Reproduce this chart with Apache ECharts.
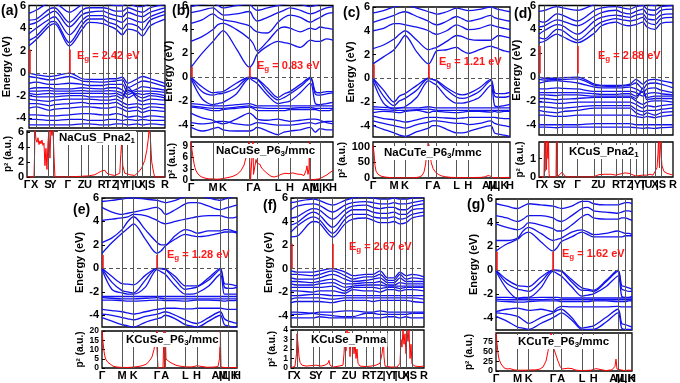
<!DOCTYPE html>
<html>
<head>
<meta charset="utf-8">
<style>
  html, body { margin: 0; padding: 0; background: #fff; }
  #main { width: 680px; height: 383px; }
</style>
</head>
<body>
<div id="main"></div>
<script src="https://cdn.jsdelivr.net/npm/echarts@6/dist/echarts.min.js"></script>
<script>
// k-path labels
var orthoLabels = ['Γ','X','S','Y','Γ','Z','U','R','T','Z','|Y','T','|U','X','|S','R'];
var hexLabels = ['Γ','M','K','Γ','A','L','H','A|L','M|K','H'];

// (a) NaCuS Pna21 : bands sampled at the tick points
var aTicks = [0, 7.6, 21, 26, 41, 54.3, 61, 75, 81, 88.3, 95, 100.3, 110, 115.3, 123.3, 138.3];
var aBands = [
  [0, -0.15, -0.3, -0.25, 0, -0.5, -0.55, -0.55, -0.5, -0.5, -0.35, -0.9, -0.5, -0.3, -0.5, -0.9],
  [-0.3, -0.4, -0.6, -0.55, -0.3, -0.7, -0.75, -0.8, -0.75, -0.7, -0.6, -1.3, -0.9, -0.7, -0.8, -1.2],
  [-0.9, -0.8, -1.0, -1.0, -0.9, -1.0, -1.1, -1.1, -1.0, -1.0, -1.0, -1.7, -1.4, -1.2, -1.3, -1.5],
  [-1.4, -1.3, -1.3, -1.4, -1.4, -1.3, -1.35, -1.4, -1.3, -1.3, -1.5, -1.9, -1.6, -1.6, -1.6, -1.7],
  [-1.6, -1.6, -1.55, -1.6, -1.6, -1.55, -1.6, -1.6, -1.55, -1.6, -1.8, -2.2, -1.8, -1.9, -1.8, -2.0],
  [-1.8, -1.9, -1.8, -1.85, -1.8, -1.8, -1.8, -1.8, -1.85, -1.8, -2.0, -1.5, -2.0, -2.2, -2.0, -2.2],
  [-2.0, -2.1, -2.1, -2.1, -2.0, -2.0, -2.1, -2.1, -2.1, -2.0, -2.3, -1.2, -2.3, -2.5, -2.3, -2.4],
  [-2.3, -2.4, -2.5, -2.4, -2.3, -2.3, -2.3, -2.4, -2.4, -2.3, -2.6, -2.8, -2.7, -2.8, -2.7, -2.8],
  [-2.7, -2.7, -2.9, -2.8, -2.7, -2.6, -2.7, -2.7, -2.7, -2.6, -2.9, -3.1, -3.0, -3.2, -3.0, -3.1],
  [-3.1, -3.0, -3.3, -3.2, -3.1, -3.0, -3.0, -3.1, -3.1, -3.0, -3.2, -3.4, -3.3, -3.5, -3.3, -3.4],
  [-3.7, -3.7, -3.8, -3.8, -3.7, -3.6, -3.6, -3.7, -3.7, -3.6, -3.7, -3.9, -3.8, -3.9, -3.8, -3.9],
  [-4.1, -4.1, -4.2, -4.2, -4.1, -4.1, -4.2, -4.2, -4.1, -4.1, -4.2, -4.1, -4.2, -4.1, -4.2, -4.2],
  [-4.6, -4.6, -4.6, -4.6, -4.6, -4.5, -4.5, -4.6, -4.6, -4.5, -4.5, -4.6, -4.5, -4.6, -4.5, -4.6],
  [2.42, 3.0, 4.2, 4.4, 2.42, 3.9, 4.5, 4.4, 4.2, 3.9, 3.4, 3.9, 3.7, 3.3, 4.2, 4.8],
  [2.9, 3.3, 4.5, 4.6, 2.7, 4.3, 4.8, 4.8, 4.5, 4.3, 3.9, 4.4, 4.2, 3.8, 4.7, 5.2],
  [3.5, 4.0, 4.8, 5.0, 3.4, 4.7, 5.1, 5.1, 4.9, 4.7, 4.5, 4.9, 4.6, 4.5, 5.0, 5.5],
  [4.3, 4.5, 5.3, 5.5, 4.1, 5.2, 5.4, 5.5, 5.3, 5.1, 5.0, 5.4, 5.1, 5.0, 5.4, 5.8],
  [4.7, 4.8, 5.7, 5.8, 4.5, 5.6, 5.8, 5.8, 5.7, 5.5, 5.5, 5.8, 5.5, 5.4, 5.8, 6.1],
  [5.3, 5.6, 6.2, 6.2, 5.4, 6.1, 6.2, 6.2, 6.1, 6.0, 6.0, 6.2, 5.9, 5.9, 6.2, 6.3]
];
var aP2 = [[0,0],[7,0],[7.6,3],[8,6.5],[9,5],[10,4.6],[11,5.2],[12,4.3],[13,4.8],[14,4.4],[15,4.9],[16,4.2],[17,4.5],[18,1.5],[19,3.8],[20,1.0],[21,4.5],[22,6.2],[23,2.5],[24,6.5],[25,5.5],[26,6.5],[27,3],[28,0],[40,0],[48,0.05],[55,0.1],[62,0.15],[68,0.3],[72,0.6],[75,0.8],[78,0.9],[80,0.5],[82,0.4],[84,0.3],[88,0.2],[93,0.5],[94,3],[95,4.8],[96,1.5],[98,0.5],[103,0.3],[108,0.2],[109,0.4],[112,0.7],[115,1.2],[118,2.2],[120,3.5],[121.5,5],[122.5,6.5],[123.5,5.5],[125,2.0],[127,0.5],[128,0],[138.3,0]];

// (b) NaCuSe P63/mmc : bands sampled at ticks and mid-segments
var bTicks = [0, 22, 32, 58.6, 66, 87, 99, 119.5, 129, 142];
var bK = [0, 11, 22, 27, 32, 45.3, 58.6, 62.3, 66, 76.5, 87, 93, 99, 109.3, 119.5, 124.3, 129, 135.5, 142];
var bBands = [
  [0.83, 2.0, 3.0, 3.5, 3.9, 2.4, 0.83, 1.2, 1.9, 2.6, 3.0, 2.9, 2.8, 2.5, 3.1, 3.0, 3.0, 3.2, 3.1],
  [3.0, 3.4, 4.0, 4.4, 4.5, 4.0, 3.2, 2.8, 2.2, 3.0, 4.0, 4.2, 4.1, 3.8, 4.1, 4.0, 4.2, 4.1, 4.0],
  [4.5, 4.8, 5.3, 5.0, 4.8, 4.6, 4.3, 4.0, 3.8, 3.7, 4.6, 5.0, 5.2, 5.0, 4.6, 4.8, 5.0, 5.3, 5.4],
  [5.4, 5.6, 5.8, 5.5, 5.2, 5.3, 5.5, 5.0, 4.7, 5.0, 5.4, 5.6, 5.8, 5.6, 5.3, 5.4, 5.6, 5.8, 5.9],
  [5.9, 6.1, 6.2, 6.0, 5.8, 6.0, 6.1, 5.8, 5.6, 5.8, 6.0, 6.1, 6.2, 6.1, 5.9, 6.0, 6.1, 6.2, 6.3],
  [0, -0.8, -1.3, -1.25, -1.2, -0.5, 0, -0.05, -0.1, -0.9, -1.7, -1.4, -1.2, -0.6, 0, -1.2, -1.3, -1.2, -1.2],
  [0, -1.2, -1.5, -1.4, -1.35, -0.9, 0, -0.1, -0.15, -1.2, -1.9, -1.7, -1.4, -0.8, -0.1, -1.4, -1.5, -1.4, -1.3],
  [-0.1, -1.8, -2.3, -2.2, -2.1, -1.4, -0.1, -0.3, -0.5, -1.5, -2.2, -2.1, -2.0, -1.3, -0.5, -2.2, -2.3, -2.2, -2.1],
  [-2.2, -2.3, -2.4, -2.4, -2.4, -2.3, -2.2, -2.3, -2.4, -2.4, -2.4, -2.4, -2.4, -2.4, -2.4, -2.4, -2.4, -2.4, -2.4],
  [-2.4, -2.5, -2.6, -2.6, -2.6, -2.5, -2.4, -2.5, -2.55, -2.6, -2.6, -2.6, -2.6, -2.55, -2.55, -2.6, -2.6, -2.6, -2.6],
  [-2.5, -2.6, -2.8, -2.8, -2.7, -2.6, -2.5, -2.6, -2.8, -2.8, -2.8, -2.8, -2.7, -2.7, -2.7, -2.7, -2.8, -2.8, -2.7],
  [-3.0, -3.4, -3.6, -3.8, -3.9, -3.5, -3.0, -3.2, -3.5, -3.6, -3.5, -3.6, -3.7, -3.6, -3.5, -3.5, -3.6, -3.8, -3.9],
  [-3.8, -3.9, -3.8, -3.7, -3.7, -3.9, -4.0, -3.9, -3.8, -3.9, -4.0, -4.0, -4.0, -3.9, -3.8, -3.9, -3.8, -3.7, -3.7],
  [-4.2, -4.5, -4.3, -4.2, -4.4, -4.5, -4.5, -4.4, -4.2, -4.5, -4.8, -4.6, -4.5, -4.4, -4.2, -4.6, -4.3, -4.4, -4.4]
];
var bP2 = [[0,10.5],[1,8],[2,6],[3,4.5],[4,3.3],[5,2.5],[7,1.6],[10,0.9],[14,0.5],[18,0.3],[22,0.3],[26,0.2],[30,0.3],[34,0.5],[38,0.7],[42,1.0],[46,1.5],[50,2.5],[53,4],[55,6],[57,9],[58,10.5],[58.6,10.5],[59.5,0],[61.5,0],[62,10.5],[62.5,1.5],[64,1],[65,5.5],[66,4.5],[67,5],[68,4],[69,4.2],[70,3.5],[71,3.6],[72,2.8],[74,2.5],[76,1.8],[78,1.3],[80,1.0],[83,0.8],[86,1.0],[90,1.5],[94,1.8],[98,1.7],[102,1.9],[106,1.6],[110,1.5],[113,1.2],[115,2.5],[116,3.8],[117,1.5],[118,3],[118.5,10.5],[119,0],[121,0.3],[125,0.2],[128,0.3],[132,0.8],[136,1.4],[140,2.2],[142,2.6]];

// (c) NaCuTe P63/mmc
var cTicks = [0, 21, 32, 55.5, 63.5, 83.5, 95, 117.5, 125, 136.7];
var cK = [0, 10.5, 21, 26.5, 32, 43.8, 55.5, 59.5, 63.5, 73.5, 83.5, 89.3, 95, 106.3, 117.5, 121.3, 125, 130.9, 136.7];
var cBands = [
  [1.21, 1.8, 2.4, 3.0, 3.6, 2.2, 1.21, 1.7, 2.3, 2.4, 2.6, 2.3, 2.1, 2.4, 2.7, 2.6, 2.5, 2.3, 2.2],
  [2.5, 2.8, 3.3, 3.7, 4.0, 3.2, 2.4, 2.5, 2.6, 3.1, 3.6, 3.5, 3.3, 3.2, 3.2, 3.4, 3.6, 3.5, 3.4],
  [4.0, 4.2, 4.6, 4.6, 4.5, 4.3, 4.0, 3.8, 3.7, 4.0, 4.5, 4.3, 4.1, 4.2, 4.5, 4.4, 4.3, 4.2, 4.1],
  [4.7, 5.0, 5.3, 5.5, 5.6, 5.2, 4.8, 4.6, 4.5, 4.8, 5.2, 5.0, 4.8, 5.0, 5.3, 5.1, 5.0, 4.9, 4.8],
  [5.5, 5.7, 6.0, 6.1, 6.2, 5.9, 5.6, 5.5, 5.4, 5.6, 5.9, 5.8, 5.7, 5.8, 6.0, 5.9, 5.8, 5.7, 5.6],
  [0, -1.0, -2.0, -1.5, -1.3, -0.6, 0, -0.1, -0.2, -0.8, -1.3, -1.4, -1.3, -0.8, -0.1, -1.2, -1.3, -1.3, -1.2],
  [0, -1.5, -2.3, -1.9, -1.7, -1.0, 0, -0.1, -0.25, -1.0, -1.6, -1.7, -1.6, -1.1, -0.2, -1.5, -1.6, -1.6, -1.5],
  [-0.2, -2.1, -2.6, -2.5, -2.4, -1.6, -0.2, -0.4, -0.6, -1.6, -2.1, -2.1, -2.0, -1.6, -0.6, -2.3, -2.4, -2.3, -2.2],
  [-2.4, -2.45, -2.5, -2.5, -2.5, -2.5, -2.4, -2.45, -2.5, -2.5, -2.5, -2.5, -2.5, -2.5, -2.5, -2.5, -2.5, -2.5, -2.5],
  [-2.6, -2.65, -2.7, -2.7, -2.7, -2.65, -2.6, -2.65, -2.7, -2.7, -2.7, -2.7, -2.7, -2.7, -2.7, -2.7, -2.7, -2.7, -2.7],
  [-2.9, -2.8, -2.85, -2.9, -2.8, -2.7, -2.9, -2.8, -2.8, -2.85, -2.9, -2.85, -2.8, -2.8, -2.85, -2.8, -2.85, -2.8, -2.8],
  [-3.2, -3.4, -3.5, -3.6, -3.7, -3.5, -3.3, -3.3, -3.3, -3.35, -3.4, -3.35, -3.3, -3.3, -3.3, -3.3, -3.35, -3.4, -3.4],
  [-3.6, -3.8, -4.0, -4.1, -4.2, -3.9, -3.7, -3.6, -3.6, -3.7, -3.8, -3.8, -3.9, -3.8, -3.6, -3.8, -3.9, -4.0, -4.1],
  [-4.0, -4.3, -4.6, -4.8, -4.9, -4.5, -4.2, -4.0, -4.0, -4.3, -4.6, -4.6, -4.5, -4.2, -4.0, -4.6, -4.7, -4.8, -4.9]
];
var cP2 = [[0,105],[1,80],[2,40],[3,22],[5,12],[8,6],[12,3],[18,1],[25,0.5],[35,0.5],[42,1],[46,3],[49,8],[51,20],[52.5,45],[54,90],[55,112],[56,105],[57,80],[58,50],[60,30],[62,20],[65,12],[68,7],[72,4],[78,2],[90,1],[100,1.5],[108,2],[112,4],[115,8],[117,6],[119,1],[125,1],[130,1.5],[136.7,2]];

// (d) KCuS Pna21
var dTicks = [0, 5.5, 18, 23.5, 38.5, 55.5, 62.5, 77, 83.5, 91, 97, 104, 108, 116, 122, 134];
var dBands = [
  [0, -0.1, -0.1, -0.05, 0, -0.6, -0.7, -0.7, -0.7, -0.6, -0.2, -0.6, -0.3, -0.2, -0.3, -0.5],
  [-0.2, -0.25, -0.2, -0.2, -0.15, -0.7, -0.75, -0.8, -0.75, -0.7, -0.5, -1.0, -0.6, -0.5, -0.6, -0.9],
  [-0.5, -0.4, -0.3, -0.35, -0.5, -0.85, -0.9, -0.9, -0.9, -0.85, -1.0, -1.3, -1.0, -0.9, -1.1, -1.3],
  [-1.0, -1.0, -0.9, -0.95, -1.0, -1.2, -1.2, -1.2, -1.2, -1.2, -1.3, -1.6, -1.4, -1.3, -1.4, -1.5],
  [-1.3, -1.3, -1.3, -1.3, -1.3, -1.4, -1.45, -1.45, -1.4, -1.4, -1.6, -1.2, -1.7, -1.6, -1.6, -1.6],
  [-1.5, -1.5, -1.55, -1.5, -1.5, -1.6, -1.6, -1.6, -1.6, -1.6, -1.8, -0.9, -1.9, -1.8, -1.8, -1.8],
  [-1.8, -1.8, -1.9, -1.85, -1.8, -1.7, -1.7, -1.7, -1.7, -1.7, -2.0, -2.3, -2.1, -2.0, -2.0, -2.1],
  [-2.1, -2.1, -2.2, -2.2, -2.1, -2.1, -2.1, -2.1, -2.1, -2.1, -2.3, -2.6, -2.4, -2.5, -2.4, -2.3],
  [-2.5, -2.5, -2.6, -2.6, -2.5, -2.4, -2.4, -2.4, -2.4, -2.4, -2.7, -2.9, -2.8, -2.8, -2.7, -2.6],
  [-2.8, -2.9, -3.0, -2.9, -2.8, -2.6, -2.6, -2.6, -2.6, -2.6, -3.0, -3.2, -3.0, -3.2, -3.0, -2.9],
  [-3.2, -3.2, -3.3, -3.3, -3.2, -3.2, -3.2, -3.2, -3.2, -3.2, -3.3, -3.4, -3.3, -3.4, -3.3, -3.2],
  [-4.0, -4.0, -4.0, -4.0, -4.0, -3.9, -3.9, -3.9, -3.9, -3.9, -4.0, -4.0, -4.0, -4.0, -4.0, -4.0],
  [-4.2, -4.2, -4.25, -4.2, -4.2, -4.2, -4.2, -4.2, -4.2, -4.2, -4.25, -4.3, -4.25, -4.3, -4.25, -4.2],
  [2.88, 3.0, 3.6, 3.4, 2.88, 3.7, 4.3, 4.6, 4.4, 4.3, 4.4, 4.6, 4.2, 4.0, 4.5, 4.6],
  [3.3, 3.2, 4.0, 3.9, 3.1, 4.2, 4.6, 4.9, 4.8, 4.7, 4.8, 5.0, 4.6, 4.4, 4.9, 5.0],
  [3.6, 3.9, 4.4, 4.3, 3.6, 4.7, 5.0, 5.2, 5.1, 5.0, 5.2, 5.3, 4.9, 4.8, 5.2, 5.3],
  [4.2, 4.3, 4.8, 4.7, 4.3, 5.1, 5.4, 5.6, 5.4, 5.3, 5.5, 5.7, 5.3, 5.2, 5.6, 5.7],
  [4.7, 4.6, 5.3, 5.2, 4.7, 5.6, 5.8, 5.9, 5.8, 5.7, 5.9, 6.0, 5.7, 5.6, 5.9, 6.0],
  [5.5, 5.6, 5.9, 5.8, 5.6, 6.1, 6.2, 6.3, 6.2, 6.1, 6.2, 6.3, 6.1, 6.0, 6.2, 6.3]
];
var dP2 = [[0,0],[5,0],[5.5,2],[6,0.3],[6.5,2],[7.5,0.4],[8,2],[9,1],[9.5,2],[10,0.2],[10.5,0],[17,0],[17.4,2],[17.8,0],[20,0.1],[23,0.25],[25,0.2],[27,0],[54,0],[56,0.1],[60,0.13],[66,0.15],[72,0.15],[77,0.1],[80,0.15],[82,0.25],[86,0.22],[90,0.2],[92,0.1],[97,0.05],[103,0.1],[108,0.1],[111,0.15],[114,0.1],[116,0.3],[117,0.2],[118,0.5],[119,1.3],[119.5,2],[120.5,0.5],[121,2],[122,2],[123,0.6],[125,0.3],[128,0.2],[134,0.1]];

// (e) KCuSe P63/mmc
var eTicks = [0, 20, 31.6, 55, 63.3, 83.3, 95, 118.3, 126.5, 135];
var eK = [0, 10, 20, 25.8, 31.6, 43.3, 55, 59.2, 63.3, 73.3, 83.3, 89.2, 95, 106.7, 118.3, 122.4, 126.5, 130.8, 135];
var eBands = [
  [1.28, 2.2, 3.0, 3.4, 3.8, 2.5, 1.28, 1.5, 1.9, 2.5, 2.9, 2.8, 2.7, 2.8, 3.0, 3.1, 3.1, 3.1, 3.0],
  [2.2, 2.6, 3.3, 4.0, 4.4, 3.3, 2.2, 2.0, 2.0, 2.8, 3.3, 3.2, 3.0, 3.2, 3.2, 3.3, 3.3, 3.2, 3.1],
  [4.1, 4.2, 4.3, 4.4, 4.6, 4.5, 4.1, 3.9, 3.8, 4.0, 4.2, 4.3, 4.4, 4.5, 4.5, 4.4, 4.3, 4.3, 4.4],
  [5.2, 4.8, 4.6, 4.7, 4.8, 5.0, 5.2, 5.0, 4.6, 5.0, 5.5, 5.6, 5.6, 5.3, 5.0, 5.1, 5.2, 5.3, 5.4],
  [5.7, 5.8, 5.9, 6.0, 6.0, 5.9, 5.8, 5.7, 5.6, 5.8, 6.1, 6.1, 6.2, 6.0, 5.8, 5.9, 6.0, 6.1, 6.2],
  [0, -0.7, -1.3, -1.35, -1.4, -0.6, 0, 0, -0.05, -0.7, -1.5, -1.5, -1.5, -0.8, 0, -1.3, -1.35, -1.4, -1.5],
  [0, -1.2, -1.9, -2.0, -2.1, -1.0, 0, -0.05, -0.1, -1.0, -1.8, -1.7, -1.6, -1.0, -0.1, -1.6, -1.7, -1.7, -1.6],
  [-0.1, -1.8, -2.1, -2.2, -2.2, -1.6, -0.1, -0.3, -0.5, -1.5, -2.2, -2.2, -2.1, -1.5, -0.5, -2.2, -2.2, -2.2, -2.2],
  [-2.4, -2.4, -2.4, -2.4, -2.4, -2.4, -2.4, -2.4, -2.4, -2.4, -2.4, -2.4, -2.4, -2.4, -2.4, -2.4, -2.4, -2.4, -2.4],
  [-2.5, -2.55, -2.6, -2.6, -2.6, -2.55, -2.5, -2.55, -2.6, -2.6, -2.6, -2.6, -2.6, -2.6, -2.6, -2.6, -2.6, -2.6, -2.6],
  [-2.7, -2.7, -2.75, -2.8, -2.8, -2.75, -2.7, -2.7, -2.75, -2.75, -2.8, -2.75, -2.7, -2.7, -2.75, -2.8, -2.75, -2.75, -2.7],
  [-3.5, -3.6, -3.7, -3.8, -3.9, -3.7, -3.5, -3.45, -3.4, -3.4, -3.45, -3.45, -3.4, -3.4, -3.4, -3.45, -3.5, -3.5, -3.5],
  [-3.9, -4.0, -4.2, -4.3, -4.4, -4.1, -3.9, -3.8, -3.7, -4.0, -4.4, -4.6, -4.7, -4.2, -3.7, -4.3, -4.5, -4.6, -4.7],
  [-4.2, -4.5, -4.8, -4.9, -5.0, -4.6, -4.3, -4.2, -4.0, -4.3, -4.8, -4.9, -5.0, -4.5, -4.0, -4.8, -4.9, -5.0, -5.0]
];
var eP2 = [[0,20],[1,14],[2,9],[3,6],[4,4.5],[6,3],[8,2],[11,1],[15,0.5],[20,0.3],[26,0.3],[32,0.5],[36,0.8],[40,1.2],[44,2],[47,3.5],[50,6],[52,10],[53.5,15],[54.5,20],[55,10],[56,0],[61,0],[62,20],[62.5,0.3],[63.3,20],[64,4.8],[65,4.2],[67,3.5],[70,2.5],[74,1.5],[78,1.0],[84,0.6],[90,0.6],[95,1.2],[96,0.6],[105,0.4],[112,0.5],[116,0.8],[117.5,5],[118.3,20],[119,0.5],[122,0.3],[127,0.2],[135,0.3]];

// (f) KCuSe Pnma
var fTicks = [0, 6, 22, 28, 41.7, 54, 61.7, 75, 82, 89, 96.7, 103, 109, 115, 121, 133];
var fBands = [
  [-0.2, -0.3, -0.3, -0.2, 0, -0.3, -0.6, -0.5, -0.5, -0.2, -0.8, -0.8, -0.3, -0.6, -0.5, -0.7],
  [-0.5, -0.5, -0.6, -0.5, -0.2, -0.6, -0.9, -0.7, -0.7, -0.5, -1.0, -1.0, -0.5, -0.9, -0.8, -0.9],
  [-0.8, -0.9, -0.9, -0.8, -0.5, -0.9, -1.1, -1.0, -0.9, -0.8, -1.2, -1.2, -0.8, -1.1, -1.1, -1.1],
  [-1.1, -1.1, -1.2, -1.1, -0.9, -1.3, -1.3, -1.2, -1.2, -1.1, -1.4, -1.4, -1.2, -1.3, -1.3, -1.3],
  [-1.3, -1.4, -1.4, -1.3, -1.2, -1.6, -1.5, -1.4, -1.4, -1.4, -1.5, -1.5, -1.5, -1.5, -1.5, -1.5],
  [-1.6, -1.6, -1.6, -1.6, -1.5, -1.9, -1.6, -1.6, -1.6, -1.7, -1.6, -1.6, -1.7, -1.6, -1.6, -1.6],
  [-1.9, -1.9, -2.0, -1.9, -1.9, -2.1, -1.8, -1.9, -1.9, -2.0, -1.8, -1.8, -1.9, -1.8, -1.8, -1.9],
  [-2.3, -2.3, -2.2, -2.2, -2.3, -2.3, -2.3, -2.3, -2.3, -2.3, -2.3, -2.3, -2.3, -2.3, -2.3, -2.3],
  [-2.6, -2.5, -2.5, -2.5, -2.6, -2.5, -2.5, -2.5, -2.5, -2.5, -2.5, -2.5, -2.5, -2.5, -2.5, -2.6],
  [-2.9, -2.8, -2.8, -2.8, -2.9, -2.7, -2.7, -2.7, -2.8, -2.7, -2.7, -2.7, -2.7, -2.7, -2.8, -2.9],
  [-3.7, -3.7, -3.8, -3.7, -3.7, -3.6, -3.6, -3.7, -3.7, -3.6, -3.7, -3.7, -3.7, -3.7, -3.7, -3.7],
  [-3.9, -3.9, -3.8, -3.9, -4.0, -4.1, -4.1, -3.8, -3.8, -3.9, -3.9, -3.9, -3.9, -3.9, -3.8, -3.8],
  [-4.2, -4.2, -4.2, -4.1, -4.2, -4.2, -4.2, -4.2, -4.2, -4.2, -4.1, -4.1, -4.2, -4.1, -4.2, -4.2],
  [2.7, 2.75, 4.0, 3.9, 2.67, 3.8, 4.2, 4.3, 4.1, 3.9, 3.9, 4.0, 3.8, 3.9, 4.3, 4.5],
  [3.1, 3.6, 4.4, 4.2, 3.0, 4.2, 4.6, 4.6, 4.4, 4.3, 4.3, 4.4, 4.2, 4.3, 4.6, 4.8],
  [3.7, 3.9, 4.8, 4.6, 3.5, 4.6, 5.0, 5.0, 4.8, 4.7, 4.7, 4.8, 4.6, 4.6, 5.0, 5.1],
  [4.3, 4.4, 5.1, 5.0, 4.2, 5.0, 5.3, 5.4, 5.2, 5.1, 5.2, 5.2, 5.0, 5.0, 5.3, 5.5],
  [5.0, 5.3, 5.5, 5.4, 4.8, 5.4, 5.6, 5.7, 5.6, 5.5, 5.5, 5.6, 5.5, 5.5, 5.6, 5.8],
  [5.6, 5.7, 5.9, 5.8, 5.4, 5.8, 6.0, 6.1, 6.0, 5.9, 5.9, 6.0, 5.9, 5.9, 6.0, 6.1]
];
var fP2 = [[0,0],[4,0.2],[5.5,1.5],[6,3.6],[7,2.5],[8,1.2],[9,0.6],[11,0.3],[15,0.2],[20,0.25],[25,0.3],[30,0.2],[34,0.3],[37,0.5],[38,0.8],[39,0.3],[42,0.1],[48,0.2],[52,0.3],[53,1.5],[54,3.5],[55,1.8],[56,4],[57,2.5],[58,3.8],[59,1.2],[60,3.2],[61,2.2],[62,3.5],[63,1.5],[64,2.7],[65,1.0],[66,2.0],[67,0.5],[69,0.2],[75,0.15],[80,0.2],[85,0.3],[89,0.5],[91,1.5],[92.5,2.8],[93,1.2],[94,0.2],[100,0.1],[106,0.1],[109,0.5],[110,3],[111,2.2],[112,4],[113,2.5],[114,3.6],[115,1.5],[116,3.9],[117,2.8],[118,4],[119,1],[120,2.5],[121,0.4],[124,0.2],[128,0.15],[133,0.2]];

// (g) KCuTe P63/mmc
var gTicks = [0, 21.6, 32.6, 57, 65.3, 86, 97.6, 122, 129.3, 136];
var gK = [0, 10.8, 21.6, 27.1, 32.6, 44.8, 57, 61.2, 65.3, 75.7, 86, 91.8, 97.6, 109.8, 122, 125.7, 129.3, 132.7, 136];
var gBands = [
  [1.62, 2.2, 2.6, 3.0, 3.2, 2.4, 1.62, 1.9, 2.4, 2.8, 3.2, 3.0, 2.8, 2.8, 2.8, 2.8, 2.9, 2.9, 2.9],
  [2.5, 2.5, 2.7, 3.3, 3.6, 3.1, 2.5, 2.6, 2.7, 3.2, 3.4, 3.2, 3.0, 3.1, 3.3, 3.2, 3.1, 3.1, 3.0],
  [3.9, 3.6, 3.4, 3.6, 4.0, 3.8, 3.5, 3.3, 3.3, 3.8, 4.5, 4.7, 4.4, 4.3, 4.3, 4.4, 4.4, 4.3, 4.2],
  [4.6, 4.4, 4.1, 4.3, 4.6, 4.6, 4.4, 4.2, 4.1, 4.6, 5.2, 5.3, 5.0, 4.9, 4.8, 4.9, 5.0, 5.0, 4.9],
  [5.6, 5.4, 5.2, 5.4, 5.6, 5.5, 5.4, 5.3, 5.2, 5.4, 5.8, 5.8, 5.6, 5.5, 5.5, 5.6, 5.7, 5.7, 5.6],
  [0, -0.8, -1.3, -1.35, -1.4, -0.6, 0, 0, -0.05, -0.8, -1.5, -1.6, -1.7, -0.9, 0, -1.3, -1.4, -1.5, -1.6],
  [0, -1.1, -1.6, -1.7, -1.8, -1.0, 0, -0.05, -0.1, -1.0, -1.7, -1.7, -1.8, -1.0, -0.1, -1.6, -1.7, -1.8, -1.8],
  [-0.1, -1.6, -2.4, -2.3, -2.3, -1.5, -0.1, -0.3, -0.5, -1.4, -2.2, -2.1, -2.0, -1.4, -0.5, -2.2, -2.3, -2.3, -2.2],
  [-2.3, -2.3, -2.35, -2.35, -2.35, -2.3, -2.3, -2.3, -2.35, -2.35, -2.35, -2.35, -2.35, -2.35, -2.35, -2.35, -2.35, -2.35, -2.35],
  [-2.45, -2.5, -2.5, -2.5, -2.5, -2.5, -2.45, -2.5, -2.5, -2.5, -2.5, -2.5, -2.5, -2.5, -2.5, -2.5, -2.5, -2.5, -2.5],
  [-2.6, -2.65, -2.7, -2.7, -2.65, -2.6, -2.6, -2.6, -2.65, -2.65, -2.65, -2.65, -2.6, -2.6, -2.65, -2.65, -2.65, -2.6, -2.6],
  [-3.5, -3.3, -3.2, -3.3, -3.4, -3.3, -3.5, -3.2, -3.05, -3.1, -3.1, -3.1, -3.1, -3.1, -3.05, -3.1, -3.1, -3.1, -3.1],
  [-3.6, -3.7, -3.9, -4.2, -4.5, -4.0, -3.6, -3.4, -3.3, -4.0, -4.9, -4.8, -4.7, -4.0, -3.3, -4.5, -4.6, -4.7, -4.8],
  [-3.9, -4.3, -4.8, -4.9, -5.0, -4.5, -4.0, -3.8, -3.6, -4.2, -5.0, -5.0, -5.0, -4.4, -3.6, -4.9, -5.0, -5.0, -5.0]
];
var gP2 = [[0,95],[1,70],[2,45],[3,30],[5,18],[8,8],[11,5],[14,6],[16,7],[18,3],[22,2],[28,2],[34,2.5],[40,3],[44,5],[47,10],[50,25],[52,50],[53.5,75],[55,95],[56,90],[57,75],[58,55],[60,40],[62,25],[64,12],[66,5],[68,3],[72,7],[76,6],[80,2],[86,1],[95,2],[100,6],[102,2],[110,1],[116,3],[119,12],[120,30],[121,5],[123,1],[128,1],[132,2],[136,2]];

var F = 'Liberation Sans';
var panels = [
  {tag:'(a)', tagXY:[1,12], box:[27,3,138,125], pbox:[27,131,138,46], eMin:-4.87, pMax:6.1, pTicks:[0,2,4,6], pFont:11,
   ticks:aTicks, labels:orthoLabels, kpts:aTicks, bands:aBands, p2:aP2, gapK:[0.8,41], gapFrom:0, gapTop:2.1,
   eg:'2.42', egXY:[77,50], name:['NaCuS_Pna2','1',''], nameXY:[58,131]},
  {tag:'(b)', tagXY:[172,12], box:[191,4,142,133], pbox:[191,142,142,38], eMin:-5, pMax:10.2, pTicks:[0,3,6,9], pFont:10,
   ticks:bTicks, labels:hexLabels, kpts:bK, bands:bBands, p2:bP2, gapK:[0.8,58.6], gapFrom:0, gapTop:0.85,
   eg:'0.83', egXY:[257,60], name:['NaCuSe_P6','3','/mmc'], nameXY:[215,144]},
  {tag:'(c)', tagXY:[343,14], box:[373,7,137,130], pbox:[373,142,137,36], eMin:-4.95, pMax:115, pTicks:[0,50,100], pFont:11,
   ticks:cTicks, labels:hexLabels, kpts:cK, bands:cBands, p2:cP2, gapK:[0.8,55.5], gapFrom:0, gapTop:1.15,
   eg:'1.21', egXY:[439,56], name:['NaCuTe_P6','3','/mmc'], nameXY:[383,146]},
  {tag:'(d)', tagXY:[514,15], box:[539,4.5,134,130.5], pbox:[539,142,134,35], eMin:-4.86, pMax:1.9, pTicks:[0,1], pFont:11,
   ticks:dTicks, labels:orthoLabels, kpts:dTicks, bands:dBands, p2:dP2, gapK:[0.8,38.5], gapFrom:0.3, gapTop:2.6,
   eg:'2.88', egXY:[598,50], name:['KCuS_Pna2','1',''], nameXY:[568,145]},
  {tag:'(e)', tagXY:[73,211], box:[102,198,135,129], pbox:[102,331,135,37], eMin:-5, pMax:20, pTicks:[0,5,10,15,20], pFont:8.5,
   ticks:eTicks, labels:hexLabels, kpts:eK, bands:eBands, p2:eP2, gapK:[0.8,55], gapFrom:0, gapTop:1.15,
   eg:'1.28', egXY:[167,249], name:['KCuSe_P6','3','/mmc'], nameXY:[125,333]},
  {tag:'(f)', tagXY:[263,207], box:[291,198,133,129], pbox:[291,330,133,38], eMin:-4.97, pMax:4, pTicks:[0,1,2,3,4], pFont:8.5,
   ticks:fTicks, labels:orthoLabels, kpts:fTicks, bands:fBands, p2:fP2, gapK:[0.8,41.7], gapFrom:0, gapTop:2.1,
   eg:'2.67', egXY:[349,241], name:['KCuSe_Pnma','',''], nameXY:[310,333]},
  {tag:'(g)', tagXY:[467,206], box:[496,199,136,131], pbox:[496,333,136,38], eMin:-5.05, pMax:96, pTicks:[0,25,50,75], pFont:9,
   ticks:gTicks, labels:hexLabels, kpts:gK, bands:gBands, p2:gP2, gapK:[0.8,57], gapFrom:0, gapTop:1.55,
   eg:'1.62', egXY:[562,248], name:['KCuTe_P6','3','/mmc'], nameXY:[517,335]}
];

var grid = [], xAxis = [], yAxis = [], series = [], graphic = [];
var lab = {color:'#000', fontFamily:F, fontWeight:'bold', fontSize:11,
  showMinLabel:true, showMaxLabel:true, hideOverlap:false};

panels.forEach(function(p, i) {
  var gb = 2 * i, gp = 2 * i + 1;
  var last = p.ticks.length - 1;
  var kmax = p.ticks[last];
  var inner = p.ticks.slice(1, -1).map(function(t) { return {xAxis: t}; });
  // k-point labels hang below the p2 panel lines
  var kLines = p.ticks.map(function(t, n) {
    var item = {xAxis: t, name: p.labels[n]};
    if (n === 0 || n === last) item.lineStyle = {color:'rgba(0,0,0,0)'};
    return item;
  });

  [p.box, p.pbox].forEach(function(b) {
    grid.push({left:b[0], top:b[1], width:b[2], height:b[3], show:true,
      borderColor:'#000', borderWidth:1.3, backgroundColor:'#fff'});
  });

  [gb, gp].forEach(function(g) {
    xAxis.push({gridIndex:g, type:'value', min:0, max:kmax,
      axisLine:{show:false}, axisTick:{show:false}, axisLabel:{show:false}, splitLine:{show:false}});
  });

  yAxis.push({gridIndex:gb, type:'value', min:p.eMin, max:6,
    axisLine:{show:false}, splitLine:{show:false},
    axisTick:{inside:true, length:3, customValues:[-4,-2,0,2,4,6], lineStyle:{color:'#000'}},
    axisLabel:Object.assign({customValues:[-4,-2,0,2,4,6], margin:3}, lab),
    name:'Energy (eV)', nameLocation:'middle', nameGap:17,
    nameTextStyle:{color:'#000', fontFamily:F, fontWeight:'bold', fontSize:11}});
  yAxis.push({gridIndex:gp, type:'value', min:0, max:p.pMax,
    axisLine:{show:false}, splitLine:{show:false},
    axisTick:{inside:true, length:3, customValues:p.pTicks, lineStyle:{color:'#000'}},
    axisLabel:Object.assign({customValues:p.pTicks, margin:3}, lab, {fontSize:p.pFont}),
    name:'p² (a.u.)', nameLocation:'middle', nameGap:p.pMax > 50 ? 22 : 14,
    nameTextStyle:{color:'#000', fontFamily:F, fontWeight:'bold', fontSize:10}});

  // high-symmetry lines and Fermi level
  series.push({type:'line', xAxisIndex:gb, yAxisIndex:gb, data:[], z:1, silent:true,
    markLine:{silent:true, symbol:'none', animation:false, label:{show:false},
      lineStyle:{color:'#555', width:1, type:'solid'},
      data:inner.concat([{yAxis:0, lineStyle:{color:'#555', width:1, type:[4,3]}}])}});
  series.push({type:'line', xAxisIndex:gp, yAxisIndex:gp, data:[], z:1, silent:true,
    markLine:{silent:true, symbol:'none', animation:false,
      label:{show:true, position:'start', formatter:'{b}', distance:2,
        color:'#000', fontFamily:F, fontWeight:'bold', fontSize:11},
      lineStyle:{color:'#555', width:1, type:'solid'}, data:kLines}});

  p.bands.forEach(function(b) {
    series.push({type:'line', xAxisIndex:gb, yAxisIndex:gb, z:3, silent:true,
      data:p.kpts.map(function(k, n) { return [k, b[n]]; }),
      smooth:0.3, symbol:'none', lineStyle:{color:'#1212ee', width:1.3}});
  });

  // band-gap arrows
  series.push({type:'line', xAxisIndex:gb, yAxisIndex:gb, data:[], z:4, silent:true,
    markLine:{silent:true, symbol:['none','triangle'], symbolSize:[0,6], animation:false, label:{show:false},
      lineStyle:{color:'#ff1010', width:1.5, type:'solid'},
      data:p.gapK.map(function(k) { return [{coord:[k, p.gapFrom]}, {coord:[k, p.gapTop]}]; })}});

  series.push({type:'line', xAxisIndex:gp, yAxisIndex:gp, z:3, silent:true, data:p.p2,
    symbol:'none', lineStyle:{color:'#ff0000', width:1}});

  graphic.push({type:'text', left:p.tagXY[0], top:p.tagXY[1] - 8, z:100,
    style:{text:p.tag, font:'bold 14px ' + F, fill:'#000'}});
  graphic.push({type:'text', left:p.egXY[0], top:p.egXY[1], z:100,
    style:{text:'{e|E}{s|g}{e| = ' + p.eg + ' eV}',
      rich:{e:{fontSize:11, fontWeight:'bold', fontFamily:F, fill:'#ff1a1a', lineHeight:14},
            s:{fontSize:8, fontWeight:'bold', fontFamily:F, fill:'#ff1a1a', lineHeight:8, verticalAlign:'bottom'}}}});
  graphic.push({type:'text', left:p.nameXY[0], top:p.nameXY[1], z:100,
    style:{text:'{n|' + p.name[0] + '}' + (p.name[1] ? '{s|' + p.name[1] + '}' : '') + (p.name[2] ? '{n|' + p.name[2] + '}' : ''),
      backgroundColor:'#fff', padding:[0,1,0,1],
      rich:{n:{fontSize:11.5, fontWeight:'bold', fontFamily:F, fill:'#000', lineHeight:14},
            s:{fontSize:8, fontWeight:'bold', fontFamily:F, fill:'#000', lineHeight:8, verticalAlign:'bottom'}}}});
});

var chart = echarts.init(document.getElementById('main'));
chart.setOption({animation:false, backgroundColor:'#fff', grid:grid, xAxis:xAxis, yAxis:yAxis, series:series, graphic:graphic});
</script>
</body>
</html>
